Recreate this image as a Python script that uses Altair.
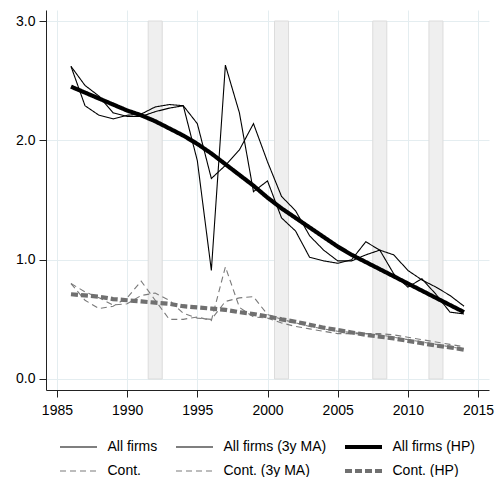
import altair as alt
import pandas as pd

years = [1986, 1987, 1988, 1989, 1990, 1991, 1992, 1993, 1994, 1995,
         1996, 1997, 1998, 1999, 2000, 2001, 2002, 2003, 2004, 2005,
         2006, 2007, 2008, 2009, 2010, 2011, 2012, 2013, 2014]

all_firms = [2.62, 2.29, 2.21, 2.18, 2.21, 2.22, 2.28, 2.30, 2.29, 1.83,
             0.91, 2.63, 2.23, 1.57, 1.66, 1.35, 1.24, 1.02, 0.99, 0.97,
             1.00, 1.15, 1.08, 0.88, 0.77, 0.84, 0.71, 0.56, 0.545]
all_firms_ma = [2.62, 2.46, 2.37, 2.23, 2.20, 2.20, 2.24, 2.27, 2.29, 2.14,
                1.68, 1.79, 1.92, 2.14, 1.82, 1.53, 1.41, 1.20, 1.08, 0.99,
                0.99, 1.04, 1.08, 1.04, 0.91, 0.83, 0.77, 0.70, 0.61]
all_firms_hp = [2.45, 2.40, 2.35, 2.30, 2.25, 2.21, 2.16, 2.10, 2.04, 1.97,
                1.89, 1.80, 1.71, 1.62, 1.52, 1.43, 1.35, 1.27, 1.19, 1.11,
                1.04, 0.98, 0.92, 0.86, 0.80, 0.74, 0.68, 0.62, 0.56]
cont = [0.80, 0.66, 0.59, 0.61, 0.68, 0.82, 0.66, 0.50, 0.50, 0.52,
        0.49, 0.94, 0.60, 0.52, 0.51, 0.47, 0.44, 0.42, 0.40, 0.38,
        0.38, 0.38, 0.37, 0.35, 0.33, 0.31, 0.29, 0.27, 0.25]
cont_ma = [0.80, 0.73, 0.68, 0.62, 0.63, 0.70, 0.72, 0.66, 0.55, 0.51,
           0.50, 0.65, 0.68, 0.69, 0.54, 0.50, 0.47, 0.44, 0.42, 0.40,
           0.39, 0.38, 0.38, 0.37, 0.35, 0.33, 0.31, 0.29, 0.27]
cont_hp = [0.71, 0.70, 0.69, 0.67, 0.66, 0.65, 0.64, 0.63, 0.61, 0.60,
           0.59, 0.58, 0.56, 0.545, 0.525, 0.50, 0.48, 0.455, 0.43, 0.41,
           0.39, 0.37, 0.355, 0.34, 0.32, 0.30, 0.28, 0.265, 0.245]

series_names = ["All firms", "All firms (3y MA)", "All firms (HP)",
                "Cont.", "Cont. (3y MA)", "Cont. (HP)"]
series_values = [all_firms, all_firms_ma, all_firms_hp, cont, cont_ma, cont_hp]

recession_start = [1991.5, 2000.5, 2007.5, 2011.5]
recession_end = [1992.5, 2001.5, 2008.5, 2012.5]
band_bottom = [0.0, 0.0, 0.0, 0.0]
band_top = [3.0, 3.0, 3.0, 3.0]

x_ticks = [1985, 1990, 1995, 2000, 2005, 2010, 2015]
y_ticks = [0, 1, 2, 3]

rows = []
for name, vals in zip(series_names, series_values):
    for yr, v in zip(years, vals):
        rows.append({"year": yr, "value": v, "series": name})
df = pd.DataFrame(rows)

bands = pd.DataFrame({"start": recession_start, "end": recession_end,
                      "lo": band_bottom, "hi": band_top})

FONT = "Liberation Sans"
x_scale = alt.Scale(domain=[1984.22, 2015.78], nice=False, zero=False)
y_scale = alt.Scale(domain=[-0.0922, 3.0922], nice=False, zero=False)

x_axis = alt.Axis(values=x_ticks, format="d", title=None, tickSize=7, labelPadding=6,
                  labelFont=FONT, labelFontSize=14, labelColor="black",
                  domainColor="#222222", tickColor="#222222", grid=True,
                  gridColor="#e4edf0", labelFlush=False)
y_axis = alt.Axis(values=y_ticks, format=".1f", title=None, tickSize=7, labelPadding=4,
                  labelFont=FONT, labelFontSize=14, labelColor="black",
                  domainColor="#222222", tickColor="#222222", grid=True,
                  gridColor="#e4edf0", labelFlush=False)

band_layer = alt.Chart(bands).mark_rect(fill="#efefef", stroke="#dcdcdc", strokeWidth=1).encode(
    x=alt.X("start:Q", scale=x_scale, axis=x_axis),
    x2="end:Q",
    y=alt.Y("lo:Q", scale=y_scale, axis=y_axis),
    y2="hi:Q",
)

colors = ["#000000", "#000000", "#000000", "#7a7a7a", "#7a7a7a", "#707070"]
dashes = [[1, 0], [1, 0], [1, 0], [6, 4], [6, 4], [7, 3]]
widths = [1.1, 1.1, 4.2, 1.1, 1.1, 4.2]

line_layer = alt.Chart(df).mark_line().encode(
    x=alt.X("year:Q", scale=x_scale, axis=x_axis),
    y=alt.Y("value:Q", scale=y_scale, axis=y_axis),
    color=alt.Color("series:N", scale=alt.Scale(domain=series_names, range=colors),
                    legend=alt.Legend(orient="none", legendX=11.5, legendY=429, columns=3,
                                      direction="horizontal",
                                      columnPadding=16, rowPadding=8, symbolType="stroke",
                                      symbolSize=1369, clipHeight=16, labelFont=FONT,
                                      labelFontSize=14, labelOffset=8, labelColor="black",
                                      title=None)),
    strokeDash=alt.StrokeDash("series:N", scale=alt.Scale(domain=series_names, range=dashes)),
    strokeWidth=alt.StrokeWidth("series:N", scale=alt.Scale(type="ordinal", domain=series_names,
                                                             range=widths)),
)

chart = alt.layer(band_layer, line_layer).properties(
    width=443, height=380,
    autosize=alt.AutoSizeParams(type="none"),
    padding={"left": 46, "top": 10, "right": 7, "bottom": 87},
    background="white",
).configure_view(strokeWidth=0)

chart.save("out.html", embed_options={"renderer": "svg", "actions": False})
